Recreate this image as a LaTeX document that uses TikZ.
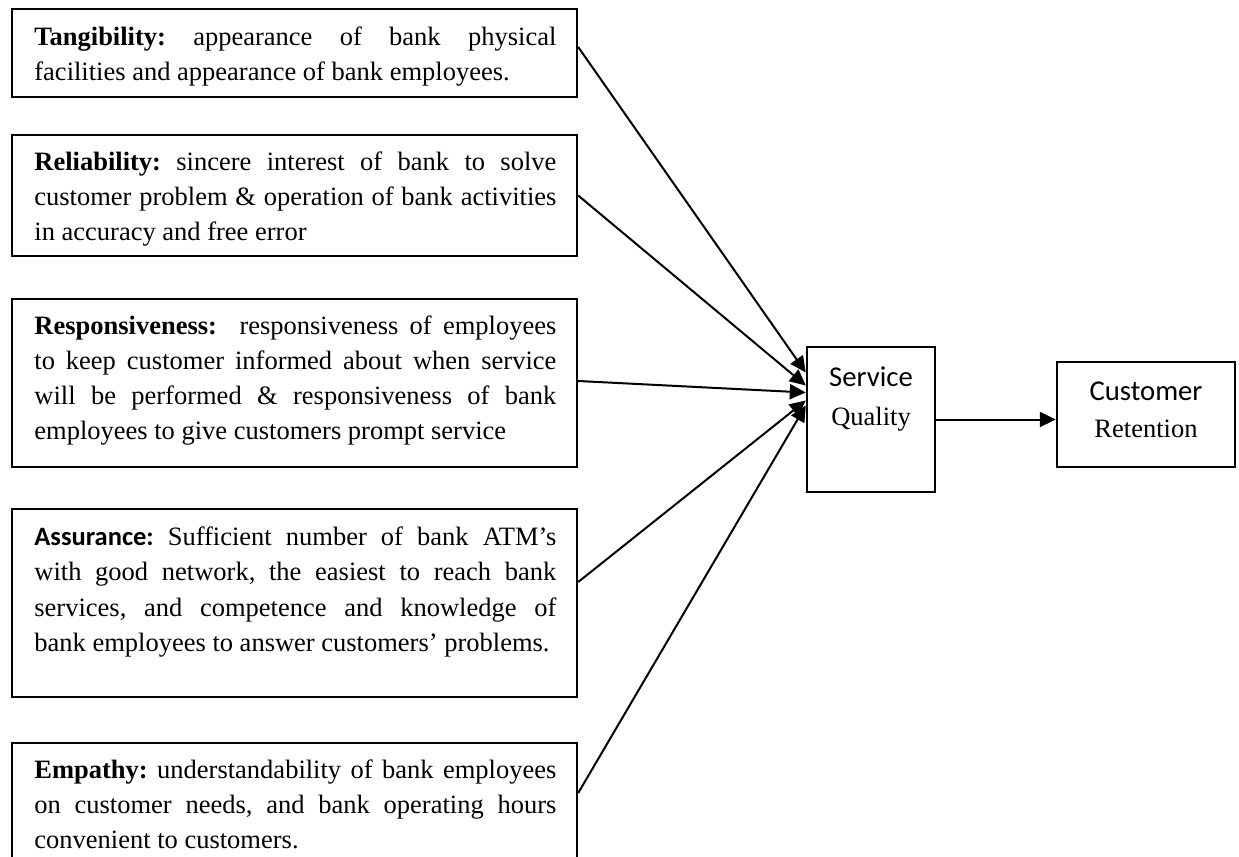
\documentclass[tikz,border=0pt]{standalone}
\usepackage{fontspec}
\setmainfont{Liberation Serif}
\newfontfamily\carlito{Carlito}
\usetikzlibrary{arrows.meta,fit}
\newcommand{\jline}[1]{\makebox[261pt][s]{\frenchspacing\spaceskip=0pt\xspaceskip=0pt #1}\\}
\newcommand{\lline}[1]{\mbox{\frenchspacing\spaceskip=0pt\xspaceskip=0pt #1}}
\begin{document}
\begin{tikzpicture}[x=0.5pt,y=-0.5pt,
  box/.style={draw,line width=1.2pt,inner sep=0pt},
  txt/.style={anchor=base west,inner sep=0pt,text width=261pt,align=left,
    font=\fontsize{13.25}{17.5}\selectfont},
  lbl/.style={anchor=base,inner sep=0pt,text width=90pt,align=center},
  conn/.style={line width=1pt,-{Triangle[length=8pt,width=7.5pt]}}]
\clip (0,0) rectangle (1239,857);
\fill[white] (0,0) rectangle (1239,857);
% boxes
\node[box,fit={(12,9)(577,97)}] (tang) {};
\node[box,fit={(12,135)(577,256)}] (reli) {};
\node[box,fit={(12,299)(577,467)}] (resp) {};
\node[box,fit={(12,509)(577,697)}] (assu) {};
\node[box,fit={(12,743)(577,900)}] (empa) {};
\node[box,fit={(807,347)(935,492)}] (sq) {};
\node[box,fit={(1057,362)(1235,467)}] (cr) {};
% texts
\node[txt] (tangt) at (34,45) {\jline{\textbf{Tangibility:} appearance of bank physical}\lline{facilities and appearance of bank employees.}};
\node[txt] (relit) at (34,170) {\jline{\textbf{Reliability:} sincere interest of bank to solve}\jline{customer problem \& operation of bank activities}\lline{in accuracy and free error}};
\node[txt] (respt) at (34,334) {\jline{\textbf{Responsiveness:}\ \ responsiveness of employees}\jline{to keep customer informed about when service}\jline{will be performed \& responsiveness of bank}\lline{employees to give customers prompt service}};
\node[txt,font=\fontsize{13.25}{17.8}\selectfont] (assut) at (34,545) {\jline{{\carlito\bfseries Assurance:} Sufficient number of bank ATM’s}\jline{with good network, the easiest to reach bank}\jline{services, and competence and knowledge of}\lline{bank employees to answer customers’ problems.}};
\node[txt] (empat) at (34,778) {\jline{\textbf{Empathy:} understandability of bank employees}\jline{on customer needs, and bank operating hours}\lline{convenient to customers.}};
\node[lbl,font=\fontsize{13.25}{19.5}\selectfont] (sqt) at (871,386) {{\carlito\fontsize{14.35}{19.5}\selectfont Service}\\Quality};
\node[lbl,font=\fontsize{13.25}{18.5}\selectfont] (crt) at (1146,400) {{\carlito\fontsize{14.35}{18.5}\selectfont Customer}\\Retention};
% connectors
\draw[conn] ([yshift=3pt]tang.east) -- ([yshift=23.5pt]sq.west);
\draw[conn] (reli.east) -- ([yshift=17pt]sq.west);
\draw[conn] ([yshift=1pt]resp.east) -- ([yshift=13.5pt]sq.west);
\draw[conn] ([yshift=10.5pt]assu.east) -- ([yshift=9.5pt]sq.west);
\draw[conn] ([yshift=14.25pt]empa.east) -- ([yshift=7pt]sq.west);
\draw[conn] (sq.east) -- (sq.east -| cr.west);
\end{tikzpicture}
\end{document}
